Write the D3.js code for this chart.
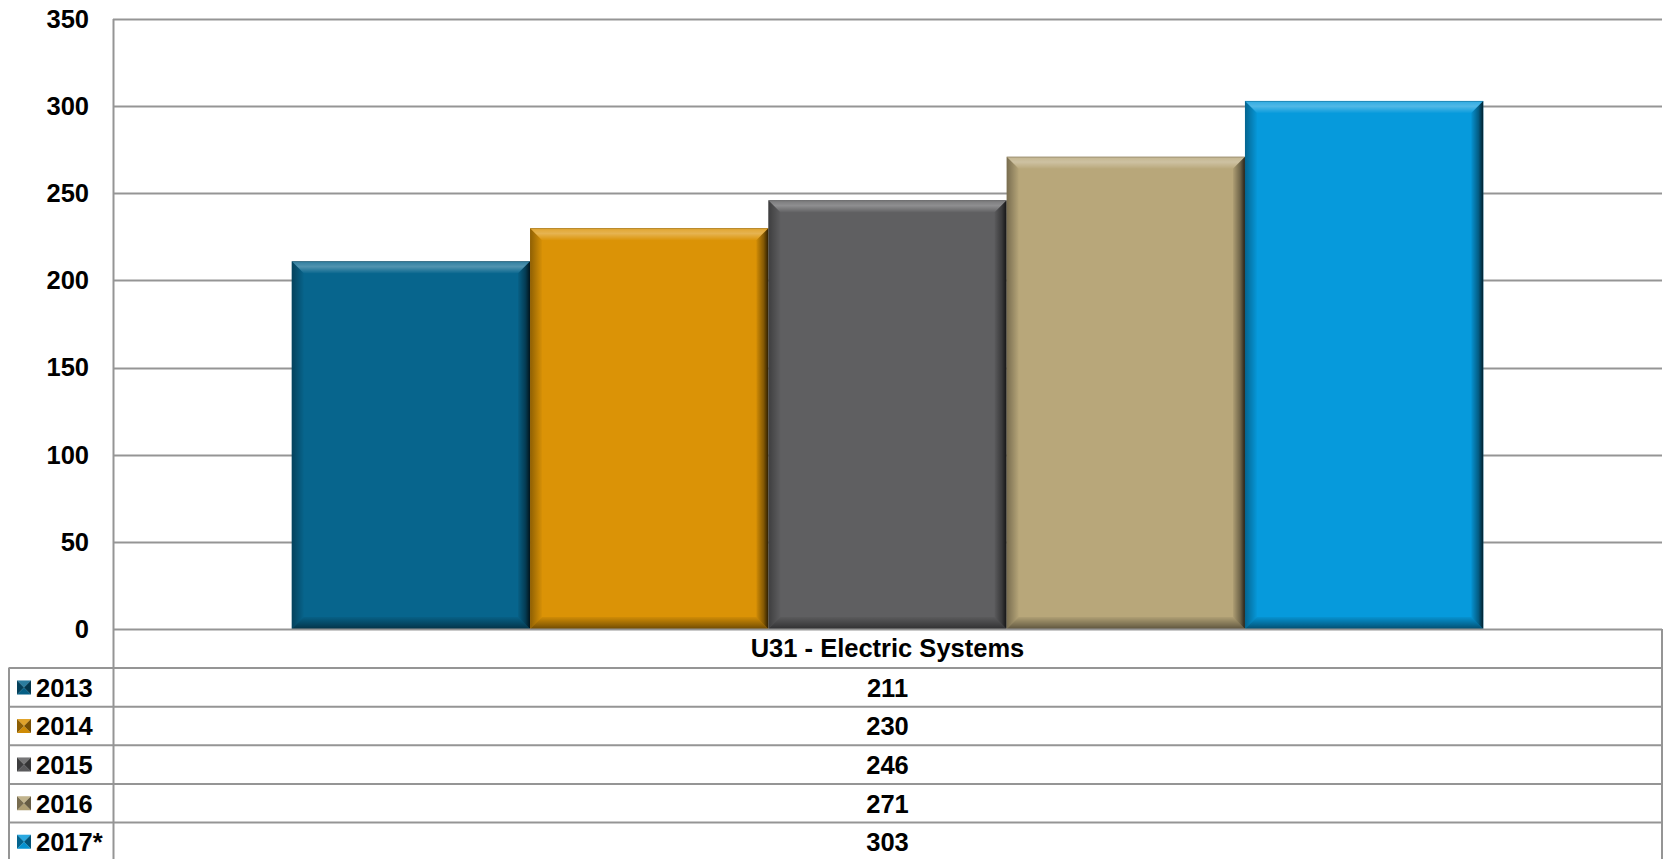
<!DOCTYPE html>
<html>
<head>
<meta charset="utf-8">
<script src="https://cdn.jsdelivr.net/npm/d3@7"></script>
<style>
  body { margin: 0; background: #fff; }
  text { font-family: "Liberation Sans", Arial, sans-serif; font-weight: bold; }
</style>
</head>
<body>
<div id="chart"></div>
<script>
// data
const category = "U31 - Electric Systems";
const years = ["2013", "2014", "2015", "2016", "2017*"];
const values = [211, 230, 246, 271, 303];
const colors = ["#07658D", "#DB9306", "#5F5F61", "#B8A77A", "#069ADC"];
const yTicks = [0, 50, 100, 150, 200, 250, 300, 350];

const W = 1667, H = 859;
const margin = {top: 19, left: 113, right: 5};
const plotBottom = 629;
const rowH = 38.6;
const tableLeft = 9;
const gridColor = "#959595";
const fontSize = 25.5;

const svg = d3.select("#chart")
  .append("svg")
  .attr("width", W)
  .attr("height", H);

const defs = svg.append("defs");

// gradients for bevel look
function grad(id, x2, y2, stops) {
  const g = defs.append("linearGradient").attr("id", id)
    .attr("x1", 0).attr("y1", 0).attr("x2", x2).attr("y2", y2);
  stops.forEach(s => g.append("stop")
    .attr("offset", s[0]).attr("stop-color", s[1]).attr("stop-opacity", s[2]));
}
grad("bevTop", 0, 1, [[0, "#000", 0.35], [0.12, "#fff", 0.2], [0.45, "#fff", 0.3], [1, "#fff", 0.02]]);
grad("bevRight", 1, 0, [[0, "#000", 0.05], [0.6, "#000", 0.4], [1, "#000", 0.8]]);
grad("bevBottom", 0, 1, [[0, "#000", 0.05], [0.7, "#000", 0.35], [1, "#000", 0.5]]);
grad("bevLeft", 1, 0, [[0, "#000", 0.35], [1, "#000", 0.02]]);

const y = d3.scaleLinear().domain([0, 350]).range([plotBottom, margin.top]);

const x0 = d3.scaleBand()
  .domain([category])
  .range([margin.left, W - margin.right])
  .paddingInner(0)
  .paddingOuter(0.15);

const x1 = d3.scaleBand()
  .domain(years)
  .range([0, x0.bandwidth()]);

// gridlines
svg.append("g")
  .selectAll("line")
  .data(yTicks.filter(d => d > 0))
  .enter()
  .append("line")
  .attr("x1", margin.left)
  .attr("x2", W - margin.right)
  .attr("y1", d => Math.round(y(d)) + 0.5)
  .attr("y2", d => Math.round(y(d)) + 0.5)
  .attr("stroke", gridColor)
  .attr("stroke-width", 2);

// y axis labels
svg.append("g")
  .selectAll("text")
  .data(yTicks)
  .enter()
  .append("text")
  .attr("x", 89)
  .attr("y", d => y(d))
  .attr("dy", "0.35em")
  .attr("text-anchor", "end")
  .attr("font-size", fontSize)
  .attr("fill", "#000")
  .text(d => d);

// bars
const b = 12;
const bars = svg.append("g")
  .selectAll("g")
  .data(years.map((yr, i) => ({year: yr, value: values[i], color: colors[i]})))
  .enter()
  .append("g");

bars.each(function (d) {
  const g = d3.select(this);
  const xa = x0(category) + x1(d.year);
  const xb = xa + x1.bandwidth();
  const ya = y(d.value);
  const yb = y(0);
  g.append("rect")
    .attr("x", xa).attr("y", ya)
    .attr("width", xb - xa).attr("height", yb - ya)
    .attr("fill", d.color);
  const poly = (pts, fill) => g.append("polygon")
    .attr("points", pts.map(p => p.join(",")).join(" "))
    .attr("fill", fill);
  poly([[xa, ya], [xb, ya], [xb - b, ya + b], [xa + b, ya + b]], "url(#bevTop)");
  poly([[xa, ya], [xa + b, ya + b], [xa + b, yb - b], [xa, yb]], "url(#bevLeft)");
  poly([[xb, ya], [xb, yb], [xb - b, yb - b], [xb - b, ya + b]], "url(#bevRight)");
  poly([[xa, yb], [xa + b, yb - b], [xb - b, yb - b], [xb, yb]], "url(#bevBottom)");
});

// axis lines
svg.append("line")
  .attr("x1", margin.left + 0.5).attr("x2", margin.left + 0.5)
  .attr("y1", margin.top).attr("y2", H)
  .attr("stroke", gridColor).attr("stroke-width", 2);
svg.append("line")
  .attr("x1", margin.left).attr("x2", W - margin.right)
  .attr("y1", plotBottom + 0.5).attr("y2", plotBottom + 0.5)
  .attr("stroke", gridColor).attr("stroke-width", 2);

// ---------------- data table ----------------
const table = svg.append("g");
const right = W - margin.right;

// right border of table
table.append("line")
  .attr("x1", right).attr("x2", right)
  .attr("y1", plotBottom).attr("y2", H)
  .attr("stroke", gridColor).attr("stroke-width", 2);
// left border
table.append("line")
  .attr("x1", tableLeft).attr("x2", tableLeft)
  .attr("y1", plotBottom + rowH).attr("y2", H)
  .attr("stroke", gridColor).attr("stroke-width", 2);

// header
table.append("text")
  .attr("x", x0(category) + x0.bandwidth() / 2)
  .attr("y", plotBottom + rowH / 2)
  .attr("dy", "0.35em")
  .attr("text-anchor", "middle")
  .attr("font-size", fontSize)
  .text(category);

const rows = table.selectAll("g.row")
  .data(years.map((yr, i) => ({year: yr, value: values[i], color: colors[i], i: i})))
  .enter()
  .append("g")
  .attr("class", "row")
  .attr("transform", d => "translate(0," + (plotBottom + rowH * (d.i + 1)) + ")");

rows.append("line")
  .attr("x1", tableLeft).attr("x2", right)
  .attr("y1", 0.5).attr("y2", 0.5)
  .attr("stroke", gridColor).attr("stroke-width", 2);

// legend key: little pyramid square
const k = 14, kx = 17;
rows.each(function (d) {
  const g = d3.select(this);
  const ky = rowH / 2 - k / 2 + 0.5;
  const cx = kx + k / 2, cy = ky + k / 2;
  const tri = (pts, shade) => {
    g.append("polygon").attr("points", pts.map(p => p.join(",")).join(" ")).attr("fill", d.color);
    g.append("polygon").attr("points", pts.map(p => p.join(",")).join(" ")).attr("fill", shade);
  };
  tri([[kx, ky], [kx + k, ky], [cx, cy]], "rgba(255,255,255,0.15)");
  tri([[kx, ky + k], [kx + k, ky + k], [cx, cy]], "rgba(0,0,0,0.05)");
  tri([[kx, ky], [cx, cy], [kx, ky + k]], "rgba(0,0,0,0.35)");
  tri([[kx + k, ky], [cx, cy], [kx + k, ky + k]], "rgba(0,0,0,0.45)");
});

rows.append("text")
  .attr("x", 36)
  .attr("y", rowH / 2 + 1)
  .attr("dy", "0.35em")
  .attr("font-size", fontSize)
  .text(d => d.year);

rows.append("text")
  .attr("x", x0(category) + x0.bandwidth() / 2)
  .attr("y", rowH / 2 + 1)
  .attr("dy", "0.35em")
  .attr("text-anchor", "middle")
  .attr("font-size", fontSize)
  .text(d => d.value);
</script>
</body>
</html>
